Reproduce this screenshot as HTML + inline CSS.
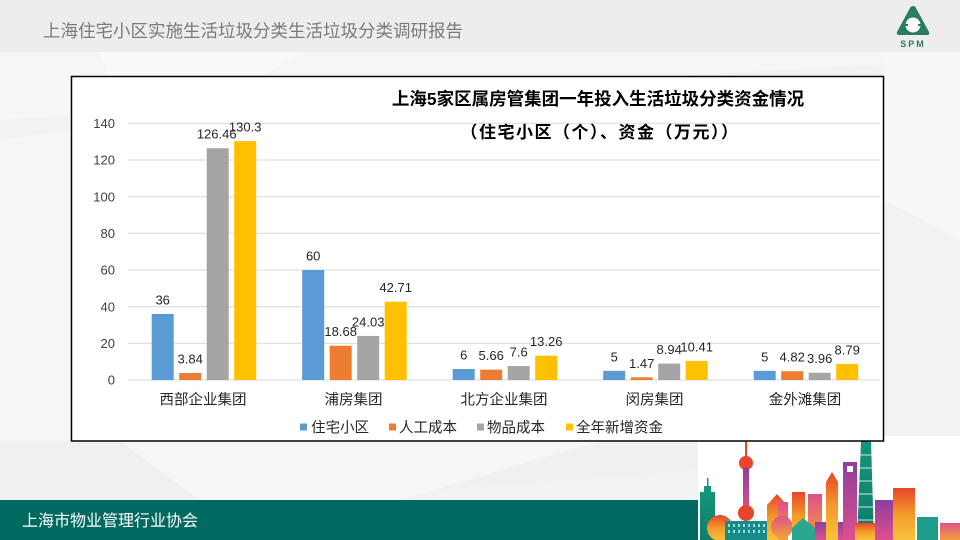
<!DOCTYPE html>
<html><head><meta charset="utf-8"><style>
html,body{margin:0;padding:0;width:960px;height:540px;overflow:hidden;background:#f2f2f2;}
svg{display:block;}
text{font-family:"Liberation Sans","Noto Sans CJK SC",sans-serif;}
.cj{font-family:"Liberation Sans","Noto Sans CJK SC",sans-serif;}
</style></head><body>
<svg width="960" height="540" viewBox="0 0 960 540" xmlns="http://www.w3.org/2000/svg">
<defs>
<linearGradient id="gOr" x1="0" y1="0" x2="0" y2="1"><stop offset="0" stop-color="#e8452c"/><stop offset="0.5" stop-color="#f39a2a"/><stop offset="1" stop-color="#f7c33a"/></linearGradient>
<linearGradient id="gPk" x1="0" y1="0" x2="0" y2="1"><stop offset="0" stop-color="#e0508a"/><stop offset="1" stop-color="#f2a03a"/></linearGradient>
<linearGradient id="gPu" x1="0" y1="0" x2="0" y2="1"><stop offset="0" stop-color="#8a3fa0"/><stop offset="1" stop-color="#e0508a"/></linearGradient>
<linearGradient id="gTe" x1="0" y1="0" x2="0" y2="1"><stop offset="0" stop-color="#13957a"/><stop offset="1" stop-color="#0e7d6a"/></linearGradient>
</defs>
<!-- background -->
<rect x="0" y="0" width="960" height="540" fill="#f2f2f2"/>
<polygon points="0,52 960,52 960,60 420,90 0,120" fill="#f6f6f6"/>
<polygon points="100,52 300,52 140,160" fill="#f9f9f9"/>
<polygon points="0,140 70,130 70,441 40,470 0,480" fill="#f6f6f6"/>
<polygon points="884,52 960,52 960,240 884,200" fill="#f7f7f7"/>
<polygon points="0,441 698,441 698,470 300,500 0,500" fill="#f0f0f0"/>
<polygon points="120,441 600,441 400,500 200,500" fill="#f6f6f6"/>
<!-- header -->
<rect x="0" y="0" width="960" height="52" fill="#ededed"/>
<text x="43" y="37" font-size="17.5" fill="#7a7a7a" class="cj">上海住宅小区实施生活垃圾分类生活垃圾分类调研报告</text>
<!-- logo -->
<path d="M913,6 Q915,6 916,8 L929,32 Q930,35 927,35 L899,35 Q896,35 897,32 L910,8 Q911,6 913,6 Z" fill="#2b7a62"/>
<circle cx="913" cy="25" r="7.5" fill="#ffffff"/>
<rect x="905" y="24" width="3" height="2" fill="#2b7a62"/>
<rect x="918" y="24" width="3" height="2" fill="#2b7a62"/>
<text x="913" y="47" font-size="9" font-weight="bold" fill="#2b7a62" text-anchor="middle" letter-spacing="2">SPM</text>

<!-- skyline white area -->
<rect x="698" y="436" width="262" height="104" fill="#ffffff"/>
<!-- skyline buildings -->
<g>
<rect x="700" y="492" width="15" height="48" fill="url(#gTe)"/>
<rect x="704" y="486" width="7" height="8" fill="#13957a"/>
<rect x="707" y="478" width="1.5" height="9" fill="#13957a"/>
<circle cx="720" cy="528" r="13" fill="url(#gOr)"/>
<rect x="745" y="441" width="2" height="25" fill="#e8452c"/>
<circle cx="746" cy="463" r="7" fill="#e8452c"/>
<rect x="743" y="468" width="6" height="44" fill="url(#gPu)"/>
<circle cx="746" cy="513" r="8" fill="#e8452c"/>
<rect x="725" y="521" width="47" height="19" fill="#178a8a"/>
<g fill="#9fd8e0"><rect x="728" y="524" width="2" height="3"/><rect x="733" y="524" width="2" height="3"/><rect x="738" y="524" width="2" height="3"/><rect x="743" y="524" width="2" height="3"/><rect x="748" y="524" width="2" height="3"/><rect x="753" y="524" width="2" height="3"/><rect x="758" y="524" width="2" height="3"/><rect x="763" y="524" width="2" height="3"/><rect x="728" y="530" width="2" height="3"/><rect x="733" y="530" width="2" height="3"/><rect x="738" y="530" width="2" height="3"/><rect x="743" y="530" width="2" height="3"/><rect x="748" y="530" width="2" height="3"/><rect x="753" y="530" width="2" height="3"/><rect x="758" y="530" width="2" height="3"/><rect x="763" y="530" width="2" height="3"/></g>
<polygon points="767,505 777,494 787,505 787,540 767,540" fill="url(#gOr)"/>
<rect x="778" y="502" width="10" height="38" fill="url(#gPk)"/>
<circle cx="782" cy="527" r="11" fill="url(#gPk)"/>
<rect x="792" y="492" width="13" height="48" fill="url(#gOr)"/>
<rect x="808" y="494" width="14" height="46" fill="url(#gPk)"/>
<polygon points="792,540 792,528 803,518 815,528 815,540" fill="#2aa58e"/>
<rect x="815" y="522" width="35" height="18" fill="url(#gPu)"/>
<polygon points="826,540 826,482 832,472 838,482 838,540" fill="url(#gOr)"/>
<rect x="843" y="462" width="14" height="78" fill="url(#gPu)"/>
<rect x="847" y="466" width="6" height="6" fill="#ffffff"/>
<polygon points="861,441 871,441 874,540 857,540" fill="url(#gTe)"/>
<g stroke="#ffffff" stroke-width="0.8"><line x1="860" y1="455" x2="872" y2="455"/><line x1="859" y1="468" x2="872" y2="468"/><line x1="859" y1="481" x2="873" y2="481"/><line x1="858" y1="494" x2="873" y2="494"/><line x1="858" y1="507" x2="873" y2="507"/><line x1="857" y1="520" x2="874" y2="520"/></g>
<rect x="855" y="523" width="30" height="17" fill="url(#gOr)"/>
<rect x="875" y="500" width="18" height="40" fill="url(#gPu)"/>
<rect x="893" y="488" width="22" height="52" fill="url(#gOr)"/>
<rect x="917" y="517" width="21" height="23" fill="#1e9e8a"/>
<rect x="940" y="523" width="20" height="17" fill="url(#gPk)"/>
</g>

<!-- footer -->
<rect x="0" y="500" width="698" height="40" fill="#006a61"/>
<text x="22" y="526" font-size="16" fill="#ffffff" class="cj">上海市物业管理行业协会</text>

<!-- chart box -->
<rect x="71.5" y="76.5" width="812" height="364.5" fill="#ffffff" stroke="#000000" stroke-width="1.5"/>
<text x="598" y="105" font-size="17.5" font-weight="bold" fill="#000" text-anchor="middle" class="cj">上海5家区属房管集团一年投入生活垃圾分类资金情况</text>
<text x="600" y="138" font-size="17" font-weight="bold" fill="#000" text-anchor="middle" letter-spacing="1.5" class="cj">（住宅小区（个）、资金（万元））</text>

<!-- gridlines -->
<g stroke="#d9d9d9" stroke-width="1">
<line x1="127.7" y1="123.3" x2="880" y2="123.3"/>
<line x1="127.7" y1="160" x2="880" y2="160"/>
<line x1="127.7" y1="196.7" x2="880" y2="196.7"/>
<line x1="127.7" y1="233.3" x2="880" y2="233.3"/>
<line x1="127.7" y1="270" x2="880" y2="270"/>
<line x1="127.7" y1="306.7" x2="880" y2="306.7"/>
<line x1="127.7" y1="343.3" x2="880" y2="343.3"/>
<line x1="127.7" y1="380" x2="880" y2="380"/>
</g>
<g font-size="13" fill="#404040" text-anchor="end">
<text x="115" y="128">140</text>
<text x="115" y="164.7">120</text>
<text x="115" y="201.4">100</text>
<text x="115" y="238">80</text>
<text x="115" y="274.7">60</text>
<text x="115" y="311.4">40</text>
<text x="115" y="348">20</text>
<text x="115" y="384.7">0</text>
</g>

<!-- bars -->
<g>
<rect x="151.7" y="314" width="22" height="66" fill="#5b9bd5"/>
<rect x="179.2" y="372.96" width="22" height="7.04" fill="#ed7d31"/>
<rect x="206.7" y="148.2" width="22" height="231.8" fill="#a5a5a5"/>
<rect x="234.2" y="141.1" width="22" height="238.9" fill="#ffc000"/>

<rect x="302.2" y="270" width="22" height="110" fill="#5b9bd5"/>
<rect x="329.7" y="345.75" width="22" height="34.25" fill="#ed7d31"/>
<rect x="357.2" y="335.94" width="22" height="44.06" fill="#a5a5a5"/>
<rect x="384.7" y="301.7" width="22" height="78.3" fill="#ffc000"/>

<rect x="452.7" y="369" width="22" height="11" fill="#5b9bd5"/>
<rect x="480.2" y="369.62" width="22" height="10.38" fill="#ed7d31"/>
<rect x="507.7" y="366.07" width="22" height="13.93" fill="#a5a5a5"/>
<rect x="535.2" y="355.69" width="22" height="24.31" fill="#ffc000"/>

<rect x="603.2" y="370.83" width="22" height="9.17" fill="#5b9bd5"/>
<rect x="630.7" y="377.3" width="22" height="2.7" fill="#ed7d31"/>
<rect x="658.2" y="363.61" width="22" height="16.39" fill="#a5a5a5"/>
<rect x="685.7" y="360.92" width="22" height="19.08" fill="#ffc000"/>

<rect x="753.7" y="370.83" width="22" height="9.17" fill="#5b9bd5"/>
<rect x="781.2" y="371.16" width="22" height="8.84" fill="#ed7d31"/>
<rect x="808.7" y="372.74" width="22" height="7.26" fill="#a5a5a5"/>
<rect x="836.2" y="363.89" width="22" height="16.11" fill="#ffc000"/>
</g>

<!-- data labels -->
<g font-size="13" fill="#262626" text-anchor="middle">
<text x="162.7" y="304.5">36</text>
<text x="190.2" y="363.5">3.84</text>
<text x="216.7" y="138.7">126.46</text>
<text x="245.2" y="131.6">130.3</text>

<text x="313.2" y="260.5">60</text>
<text x="340.7" y="336.2">18.68</text>
<text x="368.2" y="326.4">24.03</text>
<text x="395.7" y="292.2">42.71</text>

<text x="463.7" y="359.5">6</text>
<text x="491.2" y="360.1">5.66</text>
<text x="518.7" y="356.6">7.6</text>
<text x="546.2" y="346.2">13.26</text>

<text x="614.2" y="361.3">5</text>
<text x="641.7" y="367.8">1.47</text>
<text x="669.2" y="354.1">8.94</text>
<text x="696.7" y="351.4">10.41</text>

<text x="764.7" y="361.3">5</text>
<text x="792.2" y="361.7">4.82</text>
<text x="819.7" y="363.2">3.96</text>
<text x="847.2" y="354.4">8.79</text>
</g>

<!-- category labels -->
<g font-size="14.5" fill="#262626" text-anchor="middle" class="cj">
<text x="203" y="404.5">西部企业集团</text>
<text x="353.5" y="404.5">浦房集团</text>
<text x="504" y="404.5">北方企业集团</text>
<text x="654.5" y="404.5">闵房集团</text>
<text x="805" y="404.5">金外滩集团</text>
</g>

<!-- legend -->
<g font-size="14.5" fill="#262626" class="cj">
<rect x="300" y="423.5" width="7" height="7" fill="#5b9bd5"/>
<text x="311" y="432.5">住宅小区</text>
<rect x="389" y="423.5" width="7" height="7" fill="#ed7d31"/>
<text x="399" y="432.5">人工成本</text>
<rect x="477" y="423.5" width="7" height="7" fill="#a5a5a5"/>
<text x="487" y="432.5">物品成本</text>
<rect x="566" y="423.5" width="7" height="7" fill="#ffc000"/>
<text x="576" y="432.5">全年新增资金</text>
</g>
</svg>
</body></html>
